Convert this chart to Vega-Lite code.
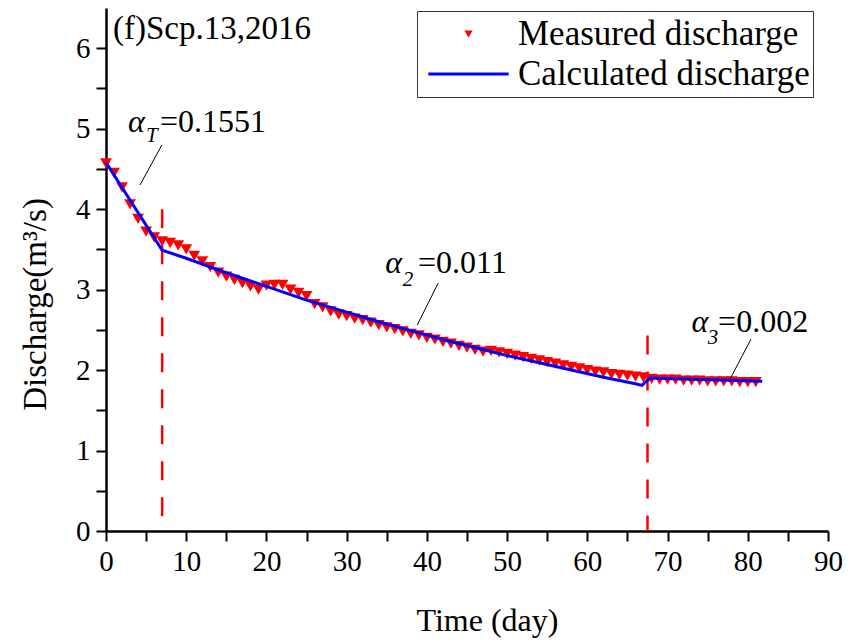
{
  "$schema": "https://vega.github.io/schema/vega-lite/v6.json",
  "width": 722,
  "height": 523,
  "autosize": {"type": "none"},
  "padding": {"left": 106, "top": 8, "right": 34, "bottom": 112},
  "background": "white",
  "config": {
    "view": {"stroke": null},
    "font": "Liberation Serif",
    "style": {"guide-label": {"font": "Liberation Serif"}, "guide-title": {"font": "Liberation Serif"}},
    "axis": {"labelFont": "Liberation Serif", "titleFont": "Liberation Serif"},
    "legend": {"labelFont": "Liberation Serif"},
    "text": {"font": "Liberation Serif", "color": "black"}
  },
  "datasets": {
    "series": [
      {"day": 0, "q": 4.57, "series": "Measured discharge"},
      {"day": 1, "q": 4.45, "series": "Measured discharge"},
      {"day": 2, "q": 4.27, "series": "Measured discharge"},
      {"day": 3, "q": 4.06, "series": "Measured discharge"},
      {"day": 4, "q": 3.88, "series": "Measured discharge"},
      {"day": 5, "q": 3.72, "series": "Measured discharge"},
      {"day": 6, "q": 3.65, "series": "Measured discharge"},
      {"day": 7, "q": 3.6, "series": "Measured discharge"},
      {"day": 8, "q": 3.58, "series": "Measured discharge"},
      {"day": 9, "q": 3.55, "series": "Measured discharge"},
      {"day": 10, "q": 3.5, "series": "Measured discharge"},
      {"day": 11, "q": 3.42, "series": "Measured discharge"},
      {"day": 12, "q": 3.35, "series": "Measured discharge"},
      {"day": 13, "q": 3.28, "series": "Measured discharge"},
      {"day": 14, "q": 3.21, "series": "Measured discharge"},
      {"day": 15, "q": 3.16, "series": "Measured discharge"},
      {"day": 16, "q": 3.12, "series": "Measured discharge"},
      {"day": 17, "q": 3.08, "series": "Measured discharge"},
      {"day": 18, "q": 3.04, "series": "Measured discharge"},
      {"day": 19, "q": 3.0, "series": "Measured discharge"},
      {"day": 20, "q": 3.05, "series": "Measured discharge"},
      {"day": 21, "q": 3.06, "series": "Measured discharge"},
      {"day": 22, "q": 3.06, "series": "Measured discharge"},
      {"day": 23, "q": 3.0, "series": "Measured discharge"},
      {"day": 24, "q": 2.96, "series": "Measured discharge"},
      {"day": 25, "q": 2.92, "series": "Measured discharge"},
      {"day": 26, "q": 2.82, "series": "Measured discharge"},
      {"day": 27, "q": 2.78, "series": "Measured discharge"},
      {"day": 28, "q": 2.73, "series": "Measured discharge"},
      {"day": 29, "q": 2.69, "series": "Measured discharge"},
      {"day": 30, "q": 2.67, "series": "Measured discharge"},
      {"day": 31, "q": 2.64, "series": "Measured discharge"},
      {"day": 32, "q": 2.62, "series": "Measured discharge"},
      {"day": 33, "q": 2.59, "series": "Measured discharge"},
      {"day": 34, "q": 2.56, "series": "Measured discharge"},
      {"day": 35, "q": 2.53, "series": "Measured discharge"},
      {"day": 36, "q": 2.51, "series": "Measured discharge"},
      {"day": 37, "q": 2.48, "series": "Measured discharge"},
      {"day": 38, "q": 2.45, "series": "Measured discharge"},
      {"day": 39, "q": 2.43, "series": "Measured discharge"},
      {"day": 40, "q": 2.4, "series": "Measured discharge"},
      {"day": 41, "q": 2.38, "series": "Measured discharge"},
      {"day": 42, "q": 2.35, "series": "Measured discharge"},
      {"day": 43, "q": 2.33, "series": "Measured discharge"},
      {"day": 44, "q": 2.3, "series": "Measured discharge"},
      {"day": 45, "q": 2.28, "series": "Measured discharge"},
      {"day": 46, "q": 2.25, "series": "Measured discharge"},
      {"day": 47, "q": 2.23, "series": "Measured discharge"},
      {"day": 48, "q": 2.24, "series": "Measured discharge"},
      {"day": 49, "q": 2.22, "series": "Measured discharge"},
      {"day": 50, "q": 2.2, "series": "Measured discharge"},
      {"day": 51, "q": 2.18, "series": "Measured discharge"},
      {"day": 52, "q": 2.16, "series": "Measured discharge"},
      {"day": 53, "q": 2.14, "series": "Measured discharge"},
      {"day": 54, "q": 2.12, "series": "Measured discharge"},
      {"day": 55, "q": 2.1, "series": "Measured discharge"},
      {"day": 56, "q": 2.08, "series": "Measured discharge"},
      {"day": 57, "q": 2.06, "series": "Measured discharge"},
      {"day": 58, "q": 2.04, "series": "Measured discharge"},
      {"day": 59, "q": 2.02, "series": "Measured discharge"},
      {"day": 60, "q": 2.0, "series": "Measured discharge"},
      {"day": 61, "q": 1.98, "series": "Measured discharge"},
      {"day": 62, "q": 1.97, "series": "Measured discharge"},
      {"day": 63, "q": 1.95, "series": "Measured discharge"},
      {"day": 64, "q": 1.94, "series": "Measured discharge"},
      {"day": 65, "q": 1.93, "series": "Measured discharge"},
      {"day": 66, "q": 1.92, "series": "Measured discharge"},
      {"day": 67, "q": 1.91, "series": "Measured discharge"},
      {"day": 68, "q": 1.89, "series": "Measured discharge"},
      {"day": 69, "q": 1.88, "series": "Measured discharge"},
      {"day": 70, "q": 1.88, "series": "Measured discharge"},
      {"day": 71, "q": 1.88, "series": "Measured discharge"},
      {"day": 72, "q": 1.87, "series": "Measured discharge"},
      {"day": 73, "q": 1.87, "series": "Measured discharge"},
      {"day": 74, "q": 1.87, "series": "Measured discharge"},
      {"day": 75, "q": 1.86, "series": "Measured discharge"},
      {"day": 76, "q": 1.86, "series": "Measured discharge"},
      {"day": 77, "q": 1.86, "series": "Measured discharge"},
      {"day": 78, "q": 1.86, "series": "Measured discharge"},
      {"day": 79, "q": 1.85, "series": "Measured discharge"},
      {"day": 80, "q": 1.85, "series": "Measured discharge"},
      {"day": 81, "q": 1.85, "series": "Measured discharge"},
      {"day": 0, "q": 4.58, "series": "Calculated discharge"},
      {"day": 7, "q": 3.49, "series": "Calculated discharge"},
      {"day": 10, "q": 3.39, "series": "Calculated discharge"},
      {"day": 15, "q": 3.21, "series": "Calculated discharge"},
      {"day": 20, "q": 3.04, "series": "Calculated discharge"},
      {"day": 25, "q": 2.87, "series": "Calculated discharge"},
      {"day": 30, "q": 2.72, "series": "Calculated discharge"},
      {"day": 34, "q": 2.6, "series": "Calculated discharge"},
      {"day": 38, "q": 2.49, "series": "Calculated discharge"},
      {"day": 42, "q": 2.38, "series": "Calculated discharge"},
      {"day": 46, "q": 2.28, "series": "Calculated discharge"},
      {"day": 50, "q": 2.18, "series": "Calculated discharge"},
      {"day": 54, "q": 2.09, "series": "Calculated discharge"},
      {"day": 58, "q": 2.0, "series": "Calculated discharge"},
      {"day": 62, "q": 1.91, "series": "Calculated discharge"},
      {"day": 66, "q": 1.83, "series": "Calculated discharge"},
      {"day": 66.8, "q": 1.81, "series": "Calculated discharge"},
      {"day": 67.8, "q": 1.9, "series": "Calculated discharge"},
      {"day": 81.8, "q": 1.86, "series": "Calculated discharge"}
    ],
    "breaks": [
      {"day": 7, "q": 4.0, "q2": 0},
      {"day": 67.5, "q": 2.43, "q2": 0}
    ],
    "leaders": [
      {"day": 6.98, "q": 4.8, "day2": 4.24, "q2": 4.3},
      {"day": 41.4, "q": 3.08, "day2": 38.8, "q2": 2.56},
      {"day": 80.4, "q": 2.385, "day2": 77.8, "q2": 1.89}
    ],
    "alphas": [
      {"day": 2.74, "q": 4.96, "label": "α"},
      {"day": 34.8, "q": 3.21, "label": "α"},
      {"day": 73.0, "q": 2.47, "label": "α"}
    ],
    "subs": [
      {"day": 4.99, "q": 4.83, "label": "T"},
      {"day": 37.0, "q": 3.04, "label": "2"},
      {"day": 75.0, "q": 2.33, "label": "3"}
    ],
    "values": [
      {"day": 6.73, "q": 4.96, "label": "=0.1551"},
      {"day": 38.9, "q": 3.21, "label": "=0.011"},
      {"day": 76.3, "q": 2.47, "label": "=0.002"}
    ],
    "caption": [
      {"day": 0.87, "q": 6.11, "label": "(f)Scp.13,2016"}
    ]
  },
  "encoding": {
    "x": {"field": "day", "type": "quantitative", "scale": {"domain": [0, 90], "nice": false, "zero": false},
      "axis": {
        "title": "Time (day)",
        "values": [0, 5, 10, 15, 20, 25, 30, 35, 40, 45, 50, 55, 60, 65, 70, 75, 80, 85, 90],
        "labelExpr": "datum.value % 10 === 0 ? format(datum.value, 'd') : ''",
        "labelOverlap": false,
        "labelFlush": false,
        "grid": false,
        "domainColor": "black",
        "domainWidth": 2.5,
        "tickColor": "black",
        "tickWidth": 2,
        "tickSize": 10,
        "labelFont": "Liberation Serif",
        "labelFontSize": 29,
        "labelColor": "black",
        "labelPadding": 6,
        "titleFont": "Liberation Serif",
        "titleFontSize": 32,
        "titleFontWeight": "normal",
        "titleColor": "black",
        "titleX": 381,
        "titleY": 99,
        "titleBaseline": "alphabetic",
        "titleAlign": "center"
      }},
    "y": {"field": "q", "type": "quantitative", "scale": {"domain": [0, 6.5], "nice": false, "zero": false},
      "axis": {
        "title": "Discharge(m³/s)",
        "values": [0, 0.5, 1, 1.5, 2, 2.5, 3, 3.5, 4, 4.5, 5, 5.5, 6],
        "labelExpr": "datum.value % 1 === 0 ? format(datum.value, 'd') : ''",
        "labelOverlap": false,
        "labelFlush": false,
        "grid": false,
        "domainColor": "black",
        "domainWidth": 2.5,
        "tickColor": "black",
        "tickWidth": 2,
        "tickSize": 10,
        "labelFont": "Liberation Serif",
        "labelFontSize": 29,
        "labelColor": "black",
        "labelPadding": 6,
        "titleFont": "Liberation Serif",
        "titleFontSize": 33,
        "titleFontWeight": "normal",
        "titleColor": "black",
        "titleAngle": -90,
        "titleX": -54,
        "titleY": 296,
        "titleAlign": "center",
        "titleBaseline": "bottom"
      }}
  },
  "layer": [
    {
      "data": {"name": "breaks"},
      "mark": {"type": "rule", "color": "#ff0000", "strokeWidth": 2.5, "strokeDash": [19, 17]},
      "encoding": {
        "y2": {"field": "q2"}
      }
    },
    {
      "data": {"name": "series"},
      "transform": [{"filter": "datum.series === 'Measured discharge'"}],
      "mark": {"type": "point", "filled": true, "size": 140, "opacity": 1},
      "encoding": {
        "color": {
          "field": "series",
          "type": "nominal",
          "scale": {"domain": ["Measured discharge", "Calculated discharge"], "range": ["#ff0000", "#0000ff"]},
          "legend": {
            "orient": "none",
            "legendX": 311,
            "legendY": 3,
            "title": null,
            "labelFont": "Liberation Serif",
            "labelFontSize": 35,
            "labelColor": "black",
            "labelLimit": 500,
            "strokeColor": "#333333",
            "fillColor": "white",
            "padding": 3,
            "clipHeight": 40,
            "rowPadding": 0,
            "symbolOffset": 31,
            "labelOffset": 32,
            "symbolSize": 70,
            "symbolStrokeWidth": 3
          }
        },
        "shape": {
          "field": "series",
          "type": "nominal",
          "scale": {"domain": ["Measured discharge", "Calculated discharge"], "range": ["triangle-down", "M-9.6,0L9.6,0"]},
          "legend": {"orient": "none", "legendX": 311, "legendY": 3, "title": null}
        },
        "stroke": {
          "field": "series",
          "type": "nominal",
          "scale": {"domain": ["Measured discharge", "Calculated discharge"], "range": ["transparent", "#0000ff"]},
          "legend": {"orient": "none", "legendX": 311, "legendY": 3, "title": null}
        }
      }
    },
    {
      "data": {"name": "series"},
      "transform": [{"filter": "datum.series === 'Calculated discharge'"}],
      "mark": {"type": "line", "strokeWidth": 3, "color": "#0000ff"},
      "encoding": {}
    },
    {
      "data": {"name": "leaders"},
      "mark": {"type": "rule", "color": "black", "strokeWidth": 1},
      "encoding": {
        "x2": {"field": "day2"},
        "y2": {"field": "q2"}
      }
    },
    {
      "data": {"name": "alphas"},
      "mark": {"type": "text", "align": "left", "baseline": "alphabetic", "fontSize": 32, "fontStyle": "italic", "font": "Liberation Serif"},
      "encoding": {"text": {"field": "label"}}
    },
    {
      "data": {"name": "subs"},
      "mark": {"type": "text", "align": "left", "baseline": "alphabetic", "fontSize": 21, "fontStyle": "italic", "font": "Liberation Serif"},
      "encoding": {"text": {"field": "label"}}
    },
    {
      "data": {"name": "values"},
      "mark": {"type": "text", "align": "left", "baseline": "alphabetic", "fontSize": 32, "font": "Liberation Serif"},
      "encoding": {"text": {"field": "label"}}
    },
    {
      "data": {"name": "caption"},
      "mark": {"type": "text", "align": "left", "baseline": "alphabetic", "fontSize": 33, "font": "Liberation Serif"},
      "encoding": {"text": {"field": "label"}}
    }
  ]
}
